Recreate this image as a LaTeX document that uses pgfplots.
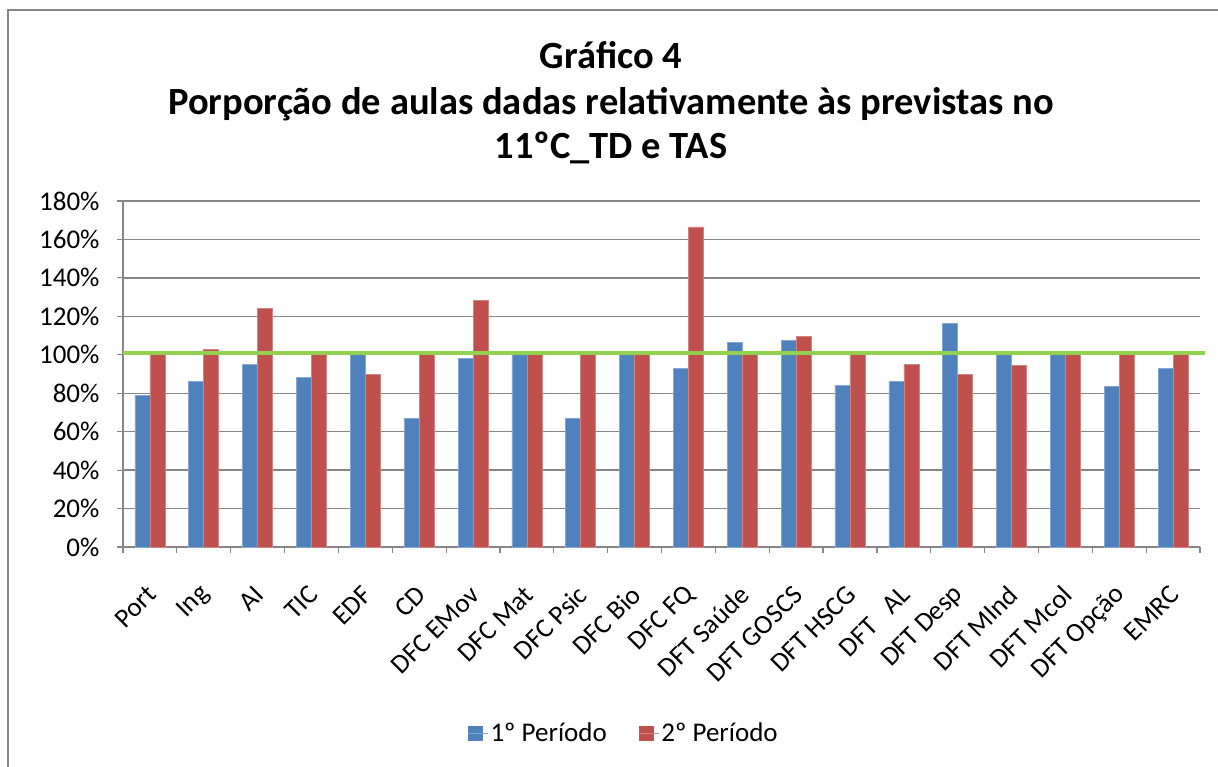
\documentclass[border=0pt]{standalone}
\usepackage{fontspec}
\setmainfont{Carlito}
\usepackage{pgfplots}
\usepackage{pgfplotstable}
\pgfplotsset{compat=1.18}
\definecolor{xblue}{RGB}{79,129,189}
\definecolor{xred}{RGB}{192,80,77}
\definecolor{xgreen}{RGB}{146,208,80}
\definecolor{xgrid}{RGB}{134,134,134}
\pgfplotstableread{
x p1 p2
0 79.0 100
1 86.0 102.8
2 95.0 124.3
3 88.1 100
4 100 89.6
5 66.7 100
6 98.1 128.2
7 100 100
8 66.7 100
9 100 100
10 92.8 166.5
11 106.3 100
12 107.5 109.6
13 84.1 100
14 86.2 95.0
15 116.3 89.6
16 100 94.3
17 100 100
18 83.4 100
19 92.8 100
}\data
\pgfplotstableread{
x y
-0.5 100.9
19.6 100.9
}\refline
\begin{document}
\begin{tikzpicture}[x=1bp,y=1bp]
\begin{axis}[
  at={(123bp,220bp)}, anchor=south west,
  scale only axis, width=1077bp, height=346bp,
  xmin=-0.5, xmax=19.5, ymin=0, ymax=180,
  ytick={0,20,...,180},
  minor ytick={0,20,...,180},
  yticklabel={\pgfmathprintnumber{\tick}\%},
  /pgf/number format/assume math mode=true,
  xtick={0,1,...,19},
  xticklabels={Port,Ing,AI,TIC,EDF,CD,DFC EMov,DFC Mat,DFC Psic,DFC Bio,DFC FQ,DFT Saúde,DFT GOSCS,DFT HSCG,DFT\ \ \ AL,DFT Desp,DFT MInd,DFT Mcol,DFT Opção,EMRC},
  minor xtick={-0.5,0.5,...,19.5},
  xticklabel style={rotate=45, anchor=east, xshift=-26bp, yshift=-32bp},
  tick align=outside,
  major tick length=0pt,
  minor tick length=6bp,
  tick style={xgrid, line width=1.2bp},
  axis x line*=bottom, axis y line*=left,
  axis line style={xgrid, line width=1.3bp},
  ymajorgrids, major grid style={xgrid, line width=1.3bp},
  tick label style={font=\fontsize{27bp}{32bp}\selectfont, text=black},
  yticklabel style={xshift=-20bp},
  ybar=0pt, bar width=15bp,
  clip=false,
  legend columns=2,
  legend style={at={(0.465,-0.5376)}, anchor=center, draw=none,
     font=\fontsize{27bp}{32bp}\selectfont,
     /tikz/every even column/.append style={column sep=30bp}},
]
\addplot[fill=xblue, draw=xblue!70!white, line width=0.6bp,
  legend image code/.code={\fill[xblue] (0bp,-7bp) rectangle (14bp,7bp); \path (0bp,0bp) -- (20bp,0bp);}]
  table[x=x, y=p1] {\data};
\addlegendentry{1º Período}
\addplot[fill=xred, draw=xred!70!white, line width=0.6bp,
  legend image code/.code={\fill[xred] (0bp,-7bp) rectangle (14bp,7bp); \path (0bp,0bp) -- (20bp,0bp);}]
  table[x=x, y=p2] {\data};
\addlegendentry{2º Período}
\addplot[sharp plot, xgreen, line width=4bp, forget plot, bar shift=0pt] table[x=x, y=y] {\refline};
\end{axis}
\begin{scope}[font=\fontsize{38.5bp}{44bp}\selectfont\bfseries]
\node[anchor=base, inner sep=0] at (611, 698) {Gráfico 4};
\node[anchor=base, inner sep=0] at (611, 652) {Porporção de aulas dadas relativamente às previstas no};
\node[anchor=base, inner sep=0] at (611, 608) {11ºC\_TD e TAS};
\end{scope}
\draw[xgrid, line width=2bp] (7.5,0) -- (7.5,756.5) -- (1218,756.5);
\pgfresetboundingbox
\path[use as bounding box] (0,0) rectangle (1218,767);
\end{tikzpicture}
\end{document}
